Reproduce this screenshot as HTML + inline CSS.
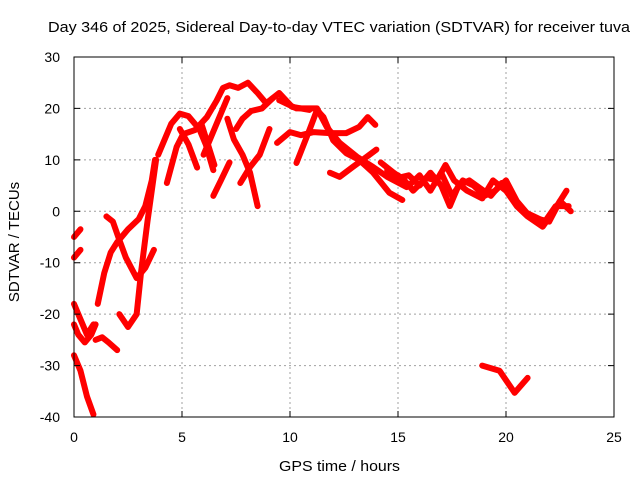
<!DOCTYPE html>
<html><head><meta charset="utf-8"><style>
body{margin:0;background:#fff}
svg{display:block;font-family:"Liberation Sans",sans-serif}
</style></head><body>
<svg id="chart" width="640" height="480" viewBox="0 0 640 480">
<rect width="640" height="480" fill="#fff"/>
<g id="grid"></g>
<g id="series"></g>
<rect x="74" y="57" width="540" height="360" fill="none" stroke="#000" stroke-width="1"/>
<g id="axes"></g>
<text x="48" y="32" font-size="15" textLength="582" lengthAdjust="spacingAndGlyphs">Day 346 of 2025, Sidereal Day-to-day VTEC variation (SDTVAR) for receiver tuva</text>
<text x="279" y="471" font-size="15" textLength="121" lengthAdjust="spacingAndGlyphs">GPS time / hours</text>
<text x="19" y="242" font-size="15" text-anchor="middle" transform="rotate(-90 19 242)">SDTVAR / TECUs</text>
</svg>
<script>
const xTicks=[0,5,10,15,20,25];
const yTicks=[-40,-30,-20,-10,0,10,20,30];
const tracks=[
[[0,-5],[0.3,-3.5]],
[[0,-9],[0.3,-7.5]],
[[0,-18],[0.3,-21],[0.6,-24],[0.9,-22]],
[[0,-22],[0.2,-24],[0.5,-25.5],[0.8,-24],[1,-22]],
[[0,-28],[0.3,-31],[0.6,-36],[0.9,-39.5]],
[[1,-25],[1.3,-24.5],[1.6,-25.5],[2,-27]],
[[1.1,-18],[1.4,-12],[1.7,-8],[2.0,-6],[2.5,-3.5],[3.0,-1.5],[3.3,1],[3.6,6],[3.75,10]],
[[1.5,-1],[1.8,-2],[2.05,-5],[2.4,-9],[2.9,-13],[3.3,-11],[3.7,-7.5]],
[[2.1,-20],[2.5,-22.5],[2.9,-20],[3.1,-12],[3.4,-2],[3.6,4],[3.8,10]],
[[3.9,11],[4.2,14],[4.5,17],[4.9,19],[5.3,18.5],[5.8,16],[6.1,13],[6.45,8]],
[[4.3,5.5],[4.75,12.5],[5.05,15],[5.6,15.8],[6.15,18.3],[6.6,21.5],[6.9,24],[7.2,24.5],[7.6,24],[8.05,25],[8.5,23],[8.9,21],[9.5,23],[10.1,20.3],[10.9,19.7]],
[[4.9,16],[5.3,13],[5.7,8.5]],
[[5.9,17],[6.2,13],[6.5,9]],
[[6.45,3],[6.8,6],[7.2,9.5]],
[[6,11],[6.5,16],[7.1,22]],
[[7.1,18],[7.4,14],[7.8,11],[8.15,7.5],[8.5,1]],
[[7.7,5.5],[8.15,8.6],[8.6,11],[9.05,16]],
[[7.5,16],[7.8,18],[8.2,19.5],[8.7,20],[9.2,22]],
[[9.4,13.3],[10,15.4],[10.5,14.8],[11.1,15.4],[11.85,15.2],[12.6,15.2],[13.2,16.4],[13.6,18.3],[13.95,16.8]],
[[10.3,9.4],[10.9,15.8],[11.25,19.7],[11.55,18.3],[12,13.8],[12.6,11.3],[13.2,10],[13.85,7.5],[14.6,3.6],[15.2,2.2]],
[[9.5,21.6],[10.3,20],[11.25,20],[11.7,16.4],[12.3,13.3],[13.1,10.6],[13.85,8.6],[14.5,6.7],[15.4,4.7]],
[[11.85,7.5],[12.3,6.7],[12.9,8.6],[13.55,10.6],[14,12]],
[[14.2,9.5],[14.8,7.5],[15.3,6],[15.7,4],[16.3,6.5],[16.8,6],[17.2,9],[17.6,6],[18.2,4],[18.9,2.5],[19.4,6],[20,4],[20.5,1],[21,-1],[21.7,-3],[22.2,0],[22.8,4]],
[[14.5,8],[15,6.5],[15.5,7],[16,5],[16.5,7.5],[17,5],[17.4,1],[17.8,5],[18.3,6],[18.8,4.5],[19.3,3],[19.8,5.5],[20.3,3],[20.8,0],[21.3,-1],[21.8,-2],[22.3,1],[22.9,1]],
[[15,7],[15.5,5],[16,7],[16.5,4],[17,7.5],[17.5,3],[18,6],[18.5,5],[19,3],[19.5,4],[20,6],[20.5,2],[21,-0.5],[21.5,-1.5],[22,-2],[22.5,2],[23,0]],
[[18.9,-30],[19.7,-31],[20.4,-35.3],[21,-32.4]]
];
const NS="http://www.w3.org/2000/svg";
const X0=74,X1=614,Y0=417,Y1=57;
const xs=t=>X0+(t-0)/(25-0)*(X1-X0);
const ys=v=>Y0-(v+40)/(70)*(Y0-Y1);
const grid=document.getElementById('grid'),axes=document.getElementById('axes'),ser=document.getElementById('series');
function mk(tag,attrs,parent){const e=document.createElementNS(NS,tag);for(const k in attrs)e.setAttribute(k,attrs[k]);parent.appendChild(e);return e;}
xTicks.forEach(t=>{
  const x=xs(t);
  if(t>0&&t<25){const g=mk('line',{x1:x,x2:x,y1:Y1,y2:Y0,stroke:'#a0a0a0','stroke-dasharray':'2,3'},grid);
  
  }
  const tk=mk('path',{d:`M${x} ${Y0}v-6M${x} ${Y1}v6`,stroke:'#000'},axes);
  
  
  const l=mk('text',{x:x,y:Y0+25,'font-size':'14','text-anchor':'middle'},axes);
  l.textContent=t;
  
  
});
yTicks.forEach(v=>{
  const y=ys(v);
  if(v>-40&&v<30){const g=mk('line',{x1:X0,x2:X1,y1:y,y2:y,stroke:'#a0a0a0','stroke-dasharray':'2,3'},grid);
  
  }
  const tk=mk('path',{d:`M${X0} ${y}h6M${X1} ${y}h-6`,stroke:'#000'},axes);
  
  
  const l=mk('text',{x:X0-14,y:y+5,'font-size':'14','text-anchor':'end'},axes);
  l.textContent=v;
  
  
});
tracks.forEach((tr,i)=>{
  const p=mk('polyline',{points:tr.map(d=>xs(d[0])+','+ys(d[1])).join(' '),fill:'none',stroke:'#ff0000','stroke-width':'6','stroke-linejoin':'round','stroke-linecap':'round'},ser);
  
  
});
</script>
</body></html>
